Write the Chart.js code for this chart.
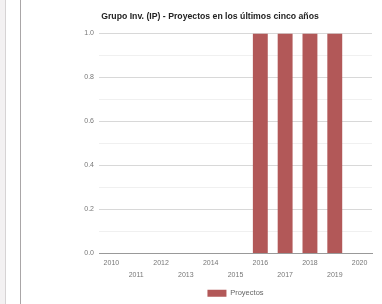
<!DOCTYPE html>
<html>
<head>
<meta charset="utf-8">
<script src="https://cdn.jsdelivr.net/npm/chart.js@4"></script>
<style>
  html, body { margin: 0; padding: 0; background: #fff; }
  body { width: 382px; height: 304px; position: relative; overflow: hidden; }
  .edge1 { position: absolute; left: 0; top: 0; width: 5px; height: 304px; background: #f3f1f2; border-right: 1px solid #d6d3d4; }
  .edge2 { position: absolute; left: 20px; top: 0; width: 1px; height: 304px; background: #a9a6a7; }
  #wrap { position: absolute; left: 40px; top: 0; width: 342px; height: 304px; }
</style>
</head>
<body>
<div class="edge1"></div>
<div class="edge2"></div>
<div id="wrap"><canvas id="chart"></canvas></div>
<script>
// ── Data ─────────────────────────────────────────────
const YEARS     = ['2010','2011','2012','2013','2014','2015','2016','2017','2018','2019','2020'];
const PROYECTOS = [0, 0, 0, 0, 0, 0, 1, 1, 1, 1, 0];
const Y_TICKS   = [0, 0.2, 0.4, 0.6, 0.8, 1.0];

const TITLE = 'Grupo Inv. (IP) - Proyectos en los últimos cinco años';
const FONT  = 'Liberation Sans, Arial, sans-serif';

new Chart(document.getElementById('chart'), {
    type: 'bar',
    data: {
        labels: YEARS,
        datasets: [{
            label: 'Proyectos',
            data: PROYECTOS,
            backgroundColor: '#b25858',
            barPercentage: 0.6,
            categoryPercentage: 1.0,
        }],
    },
    options: {
        responsive: true,
        maintainAspectRatio: false,
        animation: false,
        // negative bottom padding lets the legend sit a bit lower
        layout: { padding: { left: 8, right: 10, top: 0, bottom: -3 } },
        plugins: {
            title: {
                display: true,
                text: TITLE,
                color: '#222',
                font: { family: FONT, size: 8.7, weight: 'bold' },
                padding: { top: 11, bottom: 12 },
            },
            legend: {
                position: 'bottom',
                fullSize: false,
                labels: {
                    color: '#666',
                    font: { family: FONT, size: 7.5 },
                    boxWidth: 19,
                    boxHeight: 7,
                    padding: 2,
                },
            },
            tooltip: { enabled: false },
        },
        scales: {
            x: {
                grid: { display: false, drawTicks: false },
                border: { color: '#999', width: 1 },
                ticks: {
                    color: '#777',
                    font: { family: FONT, size: 7, lineHeight: 1.7 },
                    autoSkip: false,
                    maxRotation: 0,
                    padding: 4,
                    callback: function (v, i) {
                        const lab = this.getLabelForValue(v);
                        return i % 2 ? ['', lab] : lab;
                    },
                },
                afterFit: s => { s.height = 34; },
            },
            y: {
                min: 0,
                max: 1,
                grid: {
                    drawTicks: false,
                    color: c => (Math.round(c.tick.value * 10) % 2 ? '#f0f0f0' : '#d8d8d8'),
                },
                border: { display: false },
                ticks: {
                    stepSize: 0.1,
                    color: '#777',
                    font: { family: FONT, size: 7 },
                    padding: 5,
                    callback: v => {
                        const hit = Y_TICKS.find(t => Math.abs(t - v) < 1e-6);
                        return hit === undefined ? '' : hit.toFixed(1);
                    },
                },
                afterFit: s => { s.width = 51; },
            },
        },
    },
});
</script>
</body>
</html>
